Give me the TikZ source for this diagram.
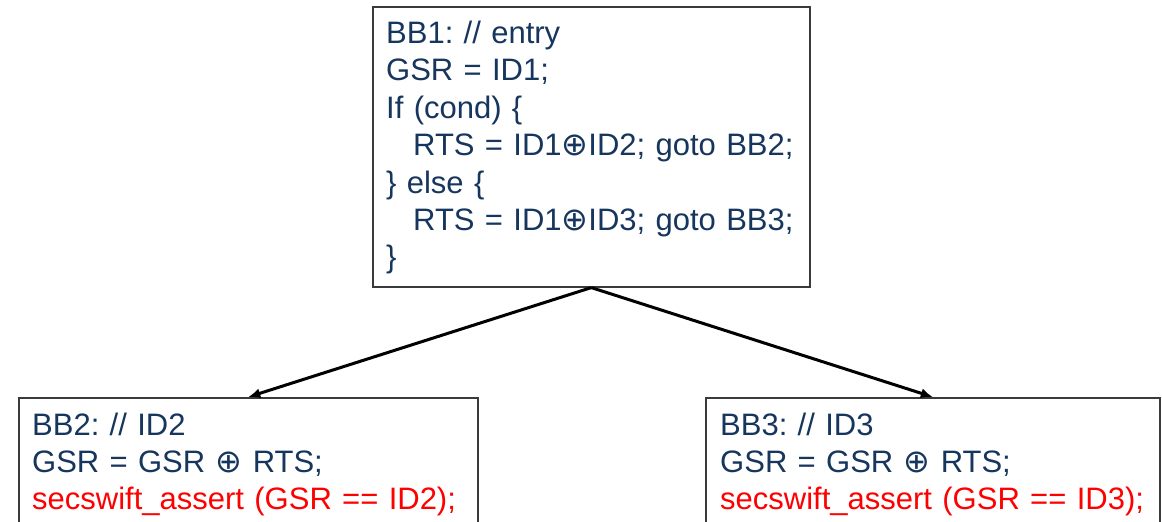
\documentclass[tikz,border=0pt]{standalone}
\usepackage{fontspec}
\setmainfont{Liberation Sans}
\newfontfamily\symfnt{DejaVu Sans}
\usetikzlibrary{arrows.meta}
\definecolor{navy}{HTML}{17365D}
\definecolor{codered}{HTML}{FF0000}
\definecolor{boxgray}{HTML}{3A3A3A}
\newcommand{\xo}{{\symfnt\fontsize{32}{32}\selectfont ⊕}}
\begin{document}
\frenchspacing
\begin{tikzpicture}[x=1pt,y=-1pt,
  bbox/.style={draw=boxgray, line width=1.6pt, rectangle, inner sep=0pt, fill=white},
  code/.style={text=navy, align=left, text width=440pt, inner sep=0pt,
    font=\fontsize{31}{37.5}\selectfont},
  flow/.style={draw=black, line width=3pt, -{Latex[length=12pt,width=10pt]}}]
\useasboundingbox (0,0) rectangle (1162,522);
\clip (0,0) rectangle (1162,522);
\fill[white] (0,0) rectangle (1162,522);
\node[bbox, minimum width=437pt, minimum height=280pt, anchor=north west] (bb1) at (372,6) {};
\node[bbox, minimum width=459pt, minimum height=160pt, anchor=north west] (bb2) at (18,397) {};
\node[bbox, minimum width=454pt, minimum height=160pt, anchor=north west] (bb3) at (705,397) {};
\node[code, anchor=base west] (t1) at (386,43) {BB1: // entry\\
GSR = ID1;\\
If (cond) \{\\
\hspace*{27pt}RTS = ID1\xo ID2; goto BB2;\\
\} else \{\\
\hspace*{27pt}RTS = ID1\xo ID3; goto BB3;\\
\}};
\node[code, anchor=base west, font=\fontsize{31}{37}\selectfont] (t2) at (32,435) {BB2: // ID2\\
GSR = GSR \xo{} RTS;\\
{\color{codered}secswift\_assert (GSR == ID2);}};
\node[code, anchor=base west, font=\fontsize{31}{37}\selectfont] (t3) at (720,435) {BB3: // ID3\\
GSR = GSR \xo{} RTS;\\
{\color{codered}secswift\_assert (GSR == ID3);}};
\draw[flow] (bb1.south) -- (bb2.north);
\draw[flow] (bb1.south) -- (bb3.north);
\end{tikzpicture}
\end{document}
